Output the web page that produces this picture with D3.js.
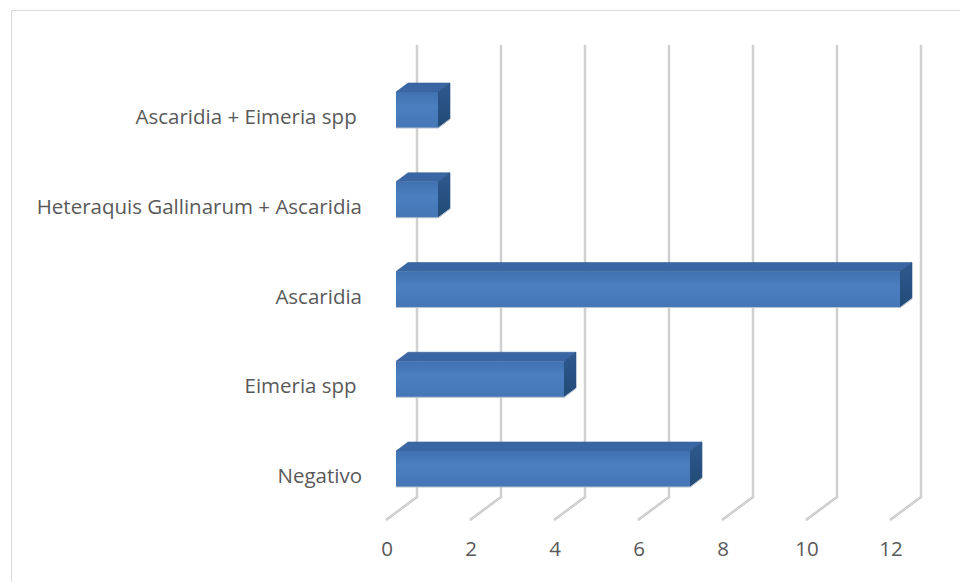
<!DOCTYPE html>
<html>
<head>
<meta charset="utf-8">
<script src="https://cdn.jsdelivr.net/npm/d3@7"></script>
<style>
  html, body { margin: 0; padding: 0; background: #ffffff; }
  svg { display: block; }
  text { font-family: "Open Sans", "Liberation Sans", sans-serif; fill: #595959; }
</style>
</head>
<body>
<svg id="chart" width="960" height="582"></svg>
<script>
// Parasite findings per category
const categories = [
  "Ascaridia + Eimeria spp ",
  "Heteraquis Gallinarum + Ascaridia",
  "Ascaridia",
  "Eimeria spp ",
  "Negativo"
];
const values = [1, 1, 12, 4, 7];
const tickValues = [0, 2, 4, 6, 8, 10, 12];

const svg = d3.select("#chart");

// chart frame
svg.append("rect")
  .attr("x", 11.5).attr("y", 10.5)
  .attr("width", 980).attr("height", 620)
  .attr("fill", "#ffffff")
  .attr("stroke", "#d9d9d9")
  .attr("stroke-width", 1);

// front-face scale for the bars
const x = d3.scaleLinear().domain([0, 12]).range([396, 900]);
// top edge of each bar's front face
const y = d3.scalePoint().domain(categories).range([92, 451]);
const barH = 36;           // front face height
const depthX = 12, depthY = 9;   // bar depth offset
const wallOff = 21;        // back wall offset from bar front
const floorDX = 31, floorDY = 23; // floor depth
const wallTop = 45, wallBottom = 497;
const fontSize = 20.5;

// back wall + floor gridlines
const defs = svg.append("defs");
const grid = svg.append("g");
tickValues.forEach(v => {
  const xb = x(v) + wallOff;
  const p = `M${xb},${wallTop} L${xb},${wallBottom} L${xb - floorDX},${wallBottom + floorDY}`;
  grid.append("path").attr("d", p)
    .attr("fill", "none").attr("stroke", "#c3c3c3").attr("stroke-width", 2.4)
    .attr("stroke-linejoin", "round");
  grid.append("path").attr("d", p)
    .attr("fill", "none").attr("stroke", "#e4e4e4").attr("stroke-width", 0.8)
    .attr("stroke-linejoin", "round");
});

// tick labels along the floor's front edge
svg.append("g").selectAll("text")
  .data(tickValues)
  .join("text")
  .attr("x", d => x(d) + wallOff - floorDX + 1)
  .attr("y", 556)
  .attr("text-anchor", "middle")
  .attr("font-size", fontSize)
  .text(d => d);

// gradients for the bar faces
const gFront = defs.append("linearGradient").attr("id", "front")
  .attr("x1", 0).attr("y1", 0).attr("x2", 0).attr("y2", 1);
gFront.append("stop").attr("offset", "0%").attr("stop-color", "#4171b0");
gFront.append("stop").attr("offset", "40%").attr("stop-color", "#4a7fc0");
gFront.append("stop").attr("offset", "100%").attr("stop-color", "#4576b6");
const gSide = defs.append("linearGradient").attr("id", "side")
  .attr("x1", 0).attr("y1", 0).attr("x2", 0).attr("y2", 1);
gSide.append("stop").attr("offset", "0%").attr("stop-color", "#2f5a8f");
gSide.append("stop").attr("offset", "100%").attr("stop-color", "#214a75");

// 3D bars
const bars = svg.append("g").selectAll("g")
  .data(categories.map((c, i) => ({ c, v: values[i] })))
  .join("g");

bars.append("path") // top face
  .attr("d", d => {
    const x0 = x(0), x1 = x(d.v), t = y(d.c);
    return `M${x0},${t} L${x0 + depthX},${t - depthY} L${x1 + depthX},${t - depthY} L${x1},${t} Z`;
  })
  .attr("fill", "#3a67a3")
  .attr("stroke", "#35609a").attr("stroke-width", 0.6);

bars.append("path") // right face
  .attr("d", d => {
    const x1 = x(d.v), t = y(d.c);
    return `M${x1},${t} L${x1 + depthX},${t - depthY} L${x1 + depthX},${t + barH - depthY} L${x1},${t + barH} Z`;
  })
  .attr("fill", "url(#side)")
  .attr("stroke", "#2a5283").attr("stroke-width", 0.6);

bars.append("rect") // front face
  .attr("x", x(0))
  .attr("y", d => y(d.c))
  .attr("width", d => x(d.v) - x(0))
  .attr("height", barH)
  .attr("fill", "url(#front)");

bars.append("path") // light lower edge
  .attr("d", d => `M${x(0)},${y(d.c) + barH} L${x(d.v)},${y(d.c) + barH} L${x(d.v) + depthX},${y(d.c) + barH - depthY}`)
  .attr("fill", "none").attr("stroke", "#b8c3d0").attr("stroke-width", 1);

// category labels
svg.append("g").selectAll("text")
  .data(categories)
  .join("text")
  .attr("x", 362)
  .attr("y", d => y(d) + 32)
  .attr("text-anchor", "end")
  .attr("font-size", fontSize)
  .attr("xml:space", "preserve")
  .style("white-space", "pre")
  .text(d => d);
</script>
</body>
</html>
